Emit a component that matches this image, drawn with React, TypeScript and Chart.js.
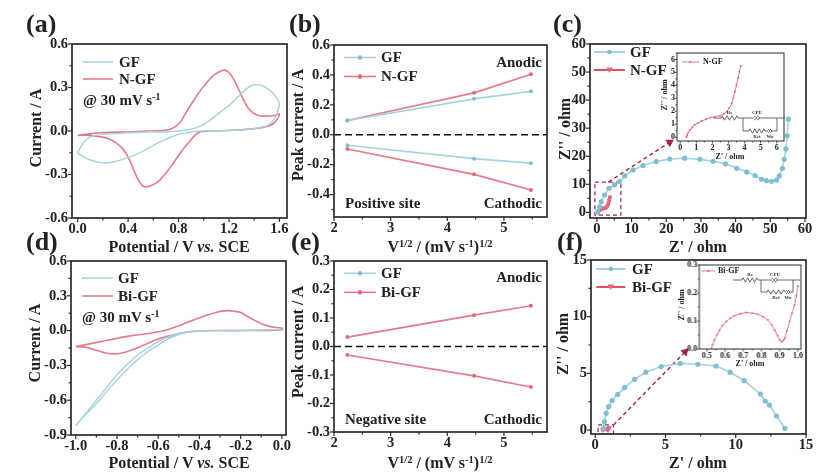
import { useEffect, useRef } from "react";
import { Chart, registerables } from "chart.js";

Chart.register(...registerables);

const SERIF = "'Liberation Serif', 'Times New Roman', serif";
const BLUE = "#a3d3df";
const BLUE_DOT = "#7fbfd1";
const RED = "#e67a88";
const RED_DOT = "#e0697a";
const RED_BOLD = "#e2505f";
const ARROW = "#a5253f";
const INK = "#2b2b2b";

// (a) cyclic voltammetry, positive site
const aGfX = [0, 0.05, 0.1, 0.2, 0.3, 0.44, 0.55, 0.63, 0.72, 0.79, 0.88, 0.97, 1.1, 1.24, 1.35, 1.45, 1.5, 1.54, 1.57, 1.59, 1.6, 1.58, 1.55, 1.5, 1.46, 1.42, 1.38, 1.33, 1.29, 1.2, 1.13, 1.05, 1.0, 0.93, 0.865, 0.78, 0.7, 0.55, 0.44, 0.3, 0.18, 0.1, 0.05, 0];
const aGfY = [-0.15, -0.18, -0.2, -0.22, -0.21, -0.17, -0.125, -0.085, -0.05, -0.025, -0.01, 0, 0.002, 0.005, 0.012, 0.025, 0.035, 0.06, 0.1, 0.15, 0.19, 0.225, 0.26, 0.295, 0.315, 0.32, 0.315, 0.285, 0.25, 0.175, 0.13, 0.075, 0.045, 0.02, 0.007, -0.001, -0.005, -0.008, -0.01, -0.018, -0.025, -0.04, -0.075, -0.15];
const aNX = [0, 0.1, 0.18, 0.25, 0.31, 0.36, 0.4, 0.44, 0.47, 0.5, 0.53, 0.57, 0.63, 0.7, 0.76, 0.82, 0.89, 0.93, 0.97, 1.05, 1.24, 1.45, 1.55, 1.6, 1.55, 1.5, 1.44, 1.39, 1.35, 1.31, 1.27, 1.235, 1.2, 1.17, 1.14, 1.08, 1.03, 0.97, 0.92, 0.865, 0.82, 0.79, 0.75, 0.71, 0.44, 0.18, 0];
const aNY = [-0.03, -0.03, -0.04, -0.055, -0.085, -0.125, -0.18, -0.26, -0.32, -0.365, -0.385, -0.38, -0.355, -0.29, -0.22, -0.145, -0.07, -0.03, -0.007, 0, 0.005, 0.023, 0.05, 0.115, 0.105, 0.103, 0.105, 0.125, 0.16, 0.225, 0.3, 0.36, 0.403, 0.42, 0.415, 0.385, 0.34, 0.275, 0.21, 0.135, 0.07, 0.04, 0.018, 0.007, -0.005, -0.012, -0.03];

// (b) peak current vs square root of scan rate
const sqrtRate = [2.236, 4.472, 5.477];
const bGfAnodic = [0.095, 0.24, 0.29];
const bNAnodic = [0.095, 0.28, 0.405];
const bGfCathodic = [-0.07, -0.16, -0.19];
const bNCathodic = [-0.095, -0.265, -0.37];

// (c) Nyquist, GF vs N-GF
const cGfX = [0.3, 0.8, 1.25, 2.2, 3.5, 5.1, 6.5, 8, 10.4, 13.3, 17.1, 21, 25.3, 29.7, 33.5, 37.1, 40.3, 43.2, 45.6, 47.5, 48.9, 50.4, 51.8, 52.6, 53.5, 54, 54.5, 54.9, 55.2];
const cGfY = [0.2, 2, 3.8, 6.2, 8.6, 9.8, 11, 13, 15.1, 16.7, 18.1, 19, 19.3, 18.9, 18.2, 17.3, 15.7, 14.4, 13.1, 11.8, 11.3, 11.1, 11.5, 13, 15.7, 18.9, 22.6, 27.3, 33.2];
const cNX = [0.38, 0.42, 0.5, 0.6, 0.75, 0.9, 1.1, 1.33, 1.6, 1.85, 2.15, 2.47, 2.7, 2.9, 3.05, 3.2, 3.3, 3.4, 3.5, 3.6, 3.68, 3.76];
const cNY = [0, 0.15, 0.35, 0.55, 0.75, 0.93, 1.1, 1.25, 1.38, 1.5, 1.58, 1.66, 1.78, 1.97, 2.25, 2.6, 3.05, 3.5, 4.05, 4.57, 5.05, 5.5];
const cBoxX = [-0.6, 6.9, 6.9, -0.6, -0.6];
const cBoxY = [10.8, 10.8, -1, -1, 10.8];
const cArrowX = [3.3, 21];
const cArrowY = [10.8, 25];

// (d) cyclic voltammetry, negative site
const dGfX = [-1, -0.95, -0.9, -0.85, -0.8, -0.75, -0.7, -0.65, -0.6, -0.55, -0.51, -0.47, -0.41, -0.3, -0.15, 0, -0.15, -0.3, -0.41, -0.47, -0.51, -0.55, -0.6, -0.65, -0.7, -0.75, -0.8, -0.85, -0.9, -0.95, -1];
const dGfY = [-0.82, -0.72, -0.63, -0.525, -0.425, -0.335, -0.25, -0.18, -0.125, -0.07, -0.04, -0.02, -0.005, 0, 0.003, 0.01, 0.003, 0, -0.003, -0.013, -0.03, -0.055, -0.095, -0.15, -0.21, -0.29, -0.38, -0.49, -0.6, -0.71, -0.82];
const dBiX = [-1, -0.97, -0.94, -0.91, -0.88, -0.85, -0.82, -0.78, -0.75, -0.71, -0.67, -0.59, -0.51, -0.41, -0.235, 0, 0, -0.05, -0.09, -0.12, -0.155, -0.18, -0.2, -0.23, -0.26, -0.29, -0.315, -0.36, -0.4, -0.48, -0.56, -0.64, -0.75, -0.88, -1];
const dBiY = [-0.14, -0.14, -0.148, -0.165, -0.18, -0.195, -0.2, -0.195, -0.18, -0.155, -0.125, -0.065, -0.03, -0.003, 0, 0.005, 0.02, 0.032, 0.052, 0.078, 0.11, 0.135, 0.155, 0.167, 0.172, 0.168, 0.158, 0.135, 0.11, 0.055, 0.005, -0.023, -0.05, -0.095, -0.14];

// (e) peak current, Bi-GF
const eBiAnodic = [0.033, 0.11, 0.143];
const eBiCathodic = [-0.03, -0.103, -0.142];

// (f) Nyquist, GF vs Bi-GF
const fGfX = [0.6, 0.66, 0.78, 0.95, 1.2, 1.6, 2.1, 2.8, 3.6, 4.7, 6.05, 7.3, 8.6, 9.6, 10.6, 11.75, 12.1, 12.4, 12.9, 13.5];
const fGfY = [0.15, 0.74, 1.47, 2.06, 2.6, 3.15, 3.76, 4.47, 5.1, 5.6, 5.88, 5.8, 5.65, 5.1, 4.35, 3.18, 2.56, 2.2, 1.24, 0.15];
const fBiX = [0.524, 0.532, 0.542, 0.555, 0.57, 0.586, 0.606, 0.628, 0.652, 0.684, 0.716, 0.75, 0.78, 0.81, 0.835, 0.855, 0.872, 0.888, 0.9, 0.912, 0.92, 0.927, 0.94, 0.954, 0.968, 0.982, 0.992, 1.0];
const fBiY = [0, 0.016, 0.032, 0.05, 0.068, 0.084, 0.098, 0.11, 0.119, 0.126, 0.13, 0.128, 0.124, 0.115, 0.104, 0.087, 0.068, 0.048, 0.032, 0.026, 0.03, 0.038, 0.065, 0.098, 0.128, 0.157, 0.19, 0.225];
const fBoxX = [0.2, 1.3, 1.3, 0.2, 0.2];
const fBoxY = [0.45, 0.45, -0.35, -0.35, 0.45];
const fArrowX = [1.3, 6.4];
const fArrowY = [0.45, 6.9];

// axis tick labels
const cvATicks = [0, 0.4, 0.8, 1.2, 1.6];
const cvDTicks = [-1, -0.8, -0.6, -0.4, -0.2, 0];
const rateTicks = [2, 3, 4, 5];
const yA = [-0.6, -0.3, 0, 0.3, 0.6];
const yB = [-0.4, -0.2, 0, 0.2, 0.4, 0.6];
const yD = [-0.9, -0.6, -0.3, 0, 0.3, 0.6];
const yE = [-0.3, -0.2, -0.1, 0, 0.1, 0.2, 0.3];
const zC = [0, 10, 20, 30, 40, 50, 60];
const zF = [0, 5, 10, 15];
const zCInX = [0, 1, 2, 3, 4, 5, 6];
const zCInY = [0, 1, 2, 3, 4, 5, 6];
const zFInX = [0.5, 0.6, 0.7, 0.8, 0.9, 1.0];
const zFInY = [0, 0.1, 0.2, 0.3];

const zip = (xs: number[], ys: number[]) => xs.map((x, i) => ({ x, y: ys[i] }));

const line = (xs: number[], ys: number[], color: string, width = 1.4) => ({
  data: zip(xs, ys), borderColor: color, borderWidth: width, pointRadius: 0, showLine: true, tension: 0.4,
});
const dotted = (xs: number[], ys: number[], color: string, dot: string, r = 2.4, style = "circle", width = 1.6) => ({
  data: zip(xs, ys), borderColor: color, borderWidth: width, showLine: true, tension: 0,
  pointRadius: r, pointStyle: style, pointBackgroundColor: dot, pointBorderColor: dot, pointBorderWidth: 0,
  pointRotation: style === "triangle" ? 180 : 0,
});
const dashed = (xs: number[], ys: number[], color: string, width = 1.2, dash = [4, 3]) => ({
  data: zip(xs, ys), borderColor: color, borderWidth: width, borderDash: dash, pointRadius: 0, showLine: true, tension: 0,
});
const arrow = (xs: number[], ys: number[], rotation: number) => ({
  ...dashed(xs, ys, ARROW, 1.4),
  pointRadius: [0, 3.5], pointStyle: "triangle", pointRotation: rotation,
  pointBackgroundColor: ARROW, pointBorderColor: ARROW,
});

type Box = [number, number, number, number];
type Key = { x0: number; x1: number; y: number; color: string; dot?: string; style?: string; w?: number };
type PanelProps = {
  box: Box; xr: [number, number]; yr: [number, number]; xt: number[]; yt: number[]; dec: [number, number];
  sets: any[]; keys?: Key[]; small?: boolean; z?: number;
};

const PAD = { l: 46, t: 8, r: 16, b: 24 };

function Panel({ box, xr, yr, xt, yt, dec, sets, keys = [], small = false, z = 1 }: PanelProps) {
  const ref = useRef<HTMLCanvasElement>(null);
  const [l, t, r, b] = box;
  const left = l - PAD.l;
  const top = t - PAD.t;
  const w = r - l + PAD.l + PAD.r;
  const h = b - t + PAD.t + PAD.b;

  useEffect(() => {
    if (!ref.current) return;
    const fontSize = small ? 8 : 14.5;
    const axis = (range: [number, number], major: number[], digits: number, horizontal: boolean) => ({
      type: "linear" as const,
      min: range[0],
      max: range[1],
      grid: { display: false, drawTicks: false },
      border: { display: false },
      ticks: {
        autoSkip: false, maxRotation: 0, padding: small ? 2 : horizontal ? 3 : 4,
        color: "#222", font: { family: SERIF, size: fontSize, weight: "bold" as const },
        callback: (v: any) => {
          if (!major.some((m) => Math.abs(m - v) < 1e-6)) return "";
          return (Math.abs(v) < 1e-6 ? 0 : Number(v)).toFixed(digits);
        },
      },
      afterBuildTicks: (s: any) => {
        const step = major[1] - major[0];
        const all: number[] = [];
        for (let i = -1; i < major.length; i++) {
          const m = major[0] + i * step;
          [m, m + step / 2].forEach((v) => { if (v >= range[0] - 1e-9 && v <= range[1] + 1e-9) all.push(v); });
        }
        s.ticks = all.map((value) => ({ value }));
      },
      afterFit: (s: any) => {
        if (horizontal) s.height = PAD.b; else s.width = PAD.l;
        s.paddingLeft = s.paddingRight = s.paddingTop = s.paddingBottom = 0;
      },
    });

    const frame = {
      id: "frame",
      afterDatasetsDraw(c: any) {
        const { ctx, chartArea: a, scales } = c;
        ctx.save();
        ctx.strokeStyle = INK;
        ctx.lineWidth = small ? 1 : 1.7;
        ctx.strokeRect(a.left, a.top, a.width, a.height);
        ctx.lineWidth = small ? 0.8 : 1.2;
        const isMajor = (list: number[], v: number) => list.some((m) => Math.abs(m - v) < 1e-6);
        scales.x.ticks.forEach((k: any) => {
          const px = scales.x.getPixelForValue(k.value);
          ctx.beginPath();
          ctx.moveTo(px, a.bottom);
          ctx.lineTo(px, a.bottom + (isMajor(xt, k.value) ? (small ? 2.5 : 4) : small ? 1.5 : 2.5));
          ctx.stroke();
        });
        scales.y.ticks.forEach((k: any) => {
          const py = scales.y.getPixelForValue(k.value);
          ctx.beginPath();
          ctx.moveTo(a.left, py);
          ctx.lineTo(a.left - (isMajor(yt, k.value) ? (small ? 2.5 : 4) : small ? 1.5 : 2.5), py);
          ctx.stroke();
        });
        // legend samples, in page coordinates
        keys.forEach((k) => {
          const y = k.y - top;
          ctx.strokeStyle = k.color;
          ctx.lineWidth = k.w ?? 1.6;
          ctx.beginPath();
          ctx.moveTo(k.x0 - left, y);
          ctx.lineTo(k.x1 - left, y);
          ctx.stroke();
          if (k.dot) {
            ctx.fillStyle = k.dot;
            const cx = (k.x0 + k.x1) / 2 - left;
            ctx.beginPath();
            if (k.style === "triangle") {
              ctx.moveTo(cx - 3.2, y - 2.5);
              ctx.lineTo(cx + 3.2, y - 2.5);
              ctx.lineTo(cx, y + 3);
              ctx.closePath();
            } else {
              ctx.arc(cx, y, small ? 1 : 2.2, 0, Math.PI * 2);
            }
            ctx.fill();
          }
        });
        ctx.restore();
      },
    };

    const chart = new Chart(ref.current, {
      type: "scatter",
      data: { datasets: sets },
      options: {
        animation: false,
        responsive: false,
        layout: { padding: { left: 0, top: PAD.t, right: PAD.r, bottom: 0 } },
        plugins: { legend: { display: false }, tooltip: { enabled: false } },
        scales: { x: axis(xr, xt, dec[0], true), y: axis(yr, yt, dec[1], false) },
      },
      plugins: [frame],
    } as any);
    return () => chart.destroy();
  }, []);

  return <canvas ref={ref} width={w} height={h} style={{ position: "absolute", left, top, width: w, height: h, zIndex: z }} />;
}

type TextProps = { x: number; y: number; size?: number; anchor?: "l" | "c" | "r"; rot?: boolean; children: any };

function T({ x, y, size = 15, anchor = "l", rot = false, children }: TextProps) {
  const tx = anchor === "l" ? "0" : anchor === "c" ? "-50%" : "-100%";
  return (
    <div style={{
      position: "absolute", left: x, top: y, zIndex: 5, whiteSpace: "nowrap", lineHeight: 1,
      fontFamily: SERIF, fontWeight: 700, fontSize: size, color: "#222",
      transform: `translate(${tx},-50%)${rot ? " rotate(-90deg)" : ""}`,
    }}>{children}</div>
  );
}

const Sup = ({ children }: { children: any }) => (
  <sup style={{ fontSize: "0.66em", lineHeight: 0, verticalAlign: "0.5em" }}>{children}</sup>
);
const PotentialLabel = () => <>Potential / V <i>vs.</i> SCE</>;
const RateLabel = () => <>V<Sup>1/2</Sup> / (mV s<Sup>-1</Sup>)<Sup>1/2</Sup></>;
const ScanRate = () => <>@ 30 mV s<Sup>-1</Sup></>;

// equivalent circuit sketched in the two insets
function zig(x0: number, x1: number, y: number, amp = 2.2, n = 7) {
  const pts = [`${x0},${y}`];
  for (let i = 0; i < n; i++) {
    const px = x0 + ((i + 0.5) * (x1 - x0)) / n;
    pts.push(`${px},${y + (i % 2 ? amp : -amp)}`);
  }
  pts.push(`${x1},${y}`);
  return pts.join(" ");
}
function Circuit({ x0, x1, y, rs, node, end, low, rct, cpe, wo }: { x0: number; x1: number; y: number; rs: [number, number]; node: number; end: number; low: number; rct: [number, number]; cpe: number; wo: number }) {
  const st = { fill: "none", stroke: "#444", strokeWidth: 0.8 };
  const lab = { fontFamily: SERIF, fontWeight: 700, fontSize: 5, fill: "#333", textAnchor: "middle" as const };
  return (
    <svg width={830} height={474} style={{ position: "absolute", left: 0, top: 0, zIndex: 4, pointerEvents: "none" }}>
      <polyline {...st} points={`${x0},${y} ${rs[0]},${y}`} />
      <polyline {...st} points={zig(rs[0], rs[1], y)} />
      <polyline {...st} points={`${rs[1]},${y} ${cpe - 3},${y}`} />
      <polyline {...st} points={`${cpe - 3},${y - 2} ${cpe},${y} ${cpe - 3},${y + 2}`} />
      <polyline {...st} points={`${cpe},${y - 2} ${cpe + 3},${y} ${cpe},${y + 2}`} />
      <polyline {...st} points={`${cpe + 3},${y} ${x1},${y}`} />
      <polyline {...st} points={`${node},${y} ${node},${low} ${rct[0]},${low}`} />
      <polyline {...st} points={zig(rct[0], rct[1], low)} />
      <polyline {...st} points={`${rct[1]},${low} ${wo - 2},${low}`} />
      <polyline {...st} points={`${wo - 2},${low - 2} ${wo},${low} ${wo - 2},${low + 2}`} />
      <polyline {...st} points={`${wo},${low - 2} ${wo + 2},${low} ${wo},${low + 2}`} />
      <polyline {...st} points={`${wo + 2},${low} ${end},${low} ${end},${y}`} />
      <text {...lab} x={(rs[0] + rs[1]) / 2} y={y - 4}>Rs</text>
      <text {...lab} x={cpe} y={y - 4}>CPE</text>
      <text {...lab} x={(rct[0] + rct[1]) / 2} y={low + 7}>Rct</text>
      <text {...lab} x={wo} y={low + 7}>Wo</text>
    </svg>
  );
}

export default function App() {
  return (
    <div style={{ position: "absolute", left: 0, top: 0, width: 830, height: 474, background: "#fff", overflow: "hidden" }}>
      <Panel box={[72, 44, 287, 218]} xr={[-0.045, 1.66]} yr={[-0.6, 0.6]} xt={cvATicks} yt={yA} dec={[1, 1]}
        sets={[line(aGfX, aGfY, BLUE), line(aNX, aNY, RED, 1.6)]}
        keys={[{ x0: 83, x1: 113, y: 62, color: BLUE }, { x0: 83, x1: 113, y: 79, color: RED }]} />
      <Panel box={[334, 44.5, 547, 217]} xr={[2, 5.76]} yr={[-0.55, 0.6]} xt={rateTicks} yt={yB} dec={[0, 1]}
        sets={[
          dashed([2, 5.76], [0, 0], "#111", 1.5, [7, 4]),
          dotted(sqrtRate, bGfAnodic, BLUE, BLUE_DOT, 2),
          dotted(sqrtRate, bGfCathodic, BLUE, BLUE_DOT, 2),
          dotted(sqrtRate, bNAnodic, RED, RED_DOT, 2),
          dotted(sqrtRate, bNCathodic, RED, RED_DOT, 2),
        ]}
        keys={[{ x0: 344, x1: 376, y: 57, color: BLUE, dot: BLUE_DOT }, { x0: 344, x1: 376, y: 76, color: RED, dot: RED_DOT }]} />
      <Panel box={[590, 44, 806, 218]} xr={[-2, 60.3]} yr={[-2, 60]} xt={zC} yt={zC} dec={[0, 0]}
        sets={[
          dotted(cGfX, cGfY, BLUE, BLUE_DOT, 2.6),
          dotted(cNX, cNY, RED_BOLD, RED_DOT, 2.8, "triangle"),
          dashed(cBoxX, cBoxY, ARROW),
          arrow(cArrowX, cArrowY, 60),
        ]}
        keys={[
          { x0: 594, x1: 625, y: 52, color: BLUE, dot: BLUE_DOT, w: 2 },
          { x0: 594, x1: 625, y: 70, color: RED_BOLD, dot: RED_DOT, style: "triangle", w: 2 },
        ]} />
      <Panel box={[677, 53, 784, 141]} xr={[-0.2, 6.45]} yr={[-0.3, 6.5]} xt={zCInX} yt={zCInY} dec={[0, 0]} small z={2}
        sets={[dotted(cNX, cNY, RED, RED_DOT, 1, "circle", 1)]}
        keys={[{ x0: 682, x1: 699, y: 62, color: RED, dot: RED_DOT, w: 1 }]} />

      <Panel box={[71, 261, 286, 435]} xr={[-1.023, 0.02]} yr={[-0.9, 0.6]} xt={cvDTicks} yt={yD} dec={[1, 1]}
        sets={[line(dGfX, dGfY, BLUE), line(dBiX, dBiY, RED, 1.6)]}
        keys={[{ x0: 82, x1: 113, y: 278, color: BLUE }, { x0: 82, x1: 113, y: 296, color: RED }]} />
      <Panel box={[334, 260.7, 547, 431.7]} xr={[2, 5.76]} yr={[-0.3, 0.3]} xt={rateTicks} yt={yE} dec={[0, 1]}
        sets={[
          dashed([2, 5.76], [0, 0], "#111", 1.5, [7, 4]),
          dotted(sqrtRate, eBiAnodic, RED, RED_DOT, 2),
          dotted(sqrtRate, eBiCathodic, RED, RED_DOT, 2),
        ]}
        keys={[{ x0: 344, x1: 376, y: 273, color: BLUE, dot: BLUE_DOT }, { x0: 344, x1: 376, y: 292, color: RED, dot: RED_DOT }]} />
      <Panel box={[590.7, 260, 806, 434]} xr={[-0.3, 15]} yr={[-0.35, 15]} xt={zF} yt={zF} dec={[0, 0]}
        sets={[
          dotted(fGfX, fGfY, BLUE, BLUE_DOT, 2.6),
          dotted(fBiX, fBiY, RED_BOLD, RED_DOT, 2.8, "triangle"),
          dashed(fBoxX, fBoxY, ARROW),
          arrow(fArrowX, fArrowY, 45),
        ]}
        keys={[
          { x0: 596, x1: 625, y: 269, color: BLUE, dot: BLUE_DOT, w: 2 },
          { x0: 596, x1: 625, y: 287, color: RED_BOLD, dot: RED_DOT, style: "triangle", w: 2 },
        ]} />
      <Panel box={[699, 265, 800.7, 349]} xr={[0.458, 1.017]} yr={[0, 0.3]} xt={zFInX} yt={zFInY} dec={[1, 1]} small z={2}
        sets={[dotted(fBiX, fBiY, RED, RED_DOT, 1, "circle", 1)]}
        keys={[{ x0: 701, x1: 715, y: 271, color: RED, dot: RED_DOT, w: 1 }]} />

      <Circuit x0={713} x1={785} y={118} rs={[721, 738]} node={743} end={777} low={131} rct={[749, 765]} cpe={757} wo={770} />
      <Circuit x0={733} x1={800} y={280} rs={[742, 758]} node={761} end={793} low={292} rct={[767, 785]} cpe={775} wo={788} />

      <T x={26} y={24} size={26}>(a)</T>
      <T x={289} y={24} size={26}>(b)</T>
      <T x={553} y={24} size={26}>(c)</T>
      <T x={26} y={242} size={26}>(d)</T>
      <T x={291} y={242} size={26}>(e)</T>
      <T x={557} y={242} size={26}>(f)</T>

      <T x={36} y={128} size={16} anchor="c" rot>Current / A</T>
      <T x={298} y={125} size={16} anchor="c" rot>Peak current / A</T>
      <T x={565} y={129} size={16} anchor="c" rot>Z'' / ohm</T>
      <T x={35} y={343} size={16} anchor="c" rot>Current / A</T>
      <T x={298} y={342} size={16} anchor="c" rot>Peak current / A</T>
      <T x={563} y={344} size={16} anchor="c" rot>Z'' / ohm</T>

      <T x={179} y={247} size={16} anchor="c"><PotentialLabel /></T>
      <T x={440} y={247} size={16} anchor="c"><RateLabel /></T>
      <T x={698} y={247} size={16} anchor="c">Z' / ohm</T>
      <T x={179} y={463} size={16} anchor="c"><PotentialLabel /></T>
      <T x={440} y={463} size={16} anchor="c"><RateLabel /></T>
      <T x={698} y={463} size={16} anchor="c">Z' / ohm</T>

      <T x={119} y={62}>GF</T>
      <T x={119} y={79}>N-GF</T>
      <T x={83} y={100}><ScanRate /></T>
      <T x={381} y={57}>GF</T>
      <T x={381} y={76}>N-GF</T>
      <T x={542} y={62} anchor="r">Anodic</T>
      <T x={542} y={203} anchor="r">Cathodic</T>
      <T x={345} y={203}>Positive site</T>
      <T x={630} y={52}>GF</T>
      <T x={630} y={70}>N-GF</T>

      <T x={703} y={62} size={8}>N-GF</T>
      <T x={665} y={95} size={8} anchor="c" rot>Z'' / ohm</T>
      <T x={730} y={157} size={8} anchor="c">Z' / ohm</T>

      <T x={118} y={278}>GF</T>
      <T x={118} y={296}>Bi-GF</T>
      <T x={82} y={317}><ScanRate /></T>
      <T x={381} y={273}>GF</T>
      <T x={381} y={292}>Bi-GF</T>
      <T x={542} y={277} anchor="r">Anodic</T>
      <T x={542} y={419} anchor="r">Cathodic</T>
      <T x={345} y={419}>Negative site</T>
      <T x={632} y={269}>GF</T>
      <T x={632} y={287}>Bi-GF</T>

      <T x={718} y={271} size={8}>Bi-GF</T>
      <T x={682} y={305} size={8} anchor="c" rot>Z'' / ohm</T>
      <T x={750} y={364} size={8} anchor="c">Z' / ohm</T>
    </div>
  );
}
